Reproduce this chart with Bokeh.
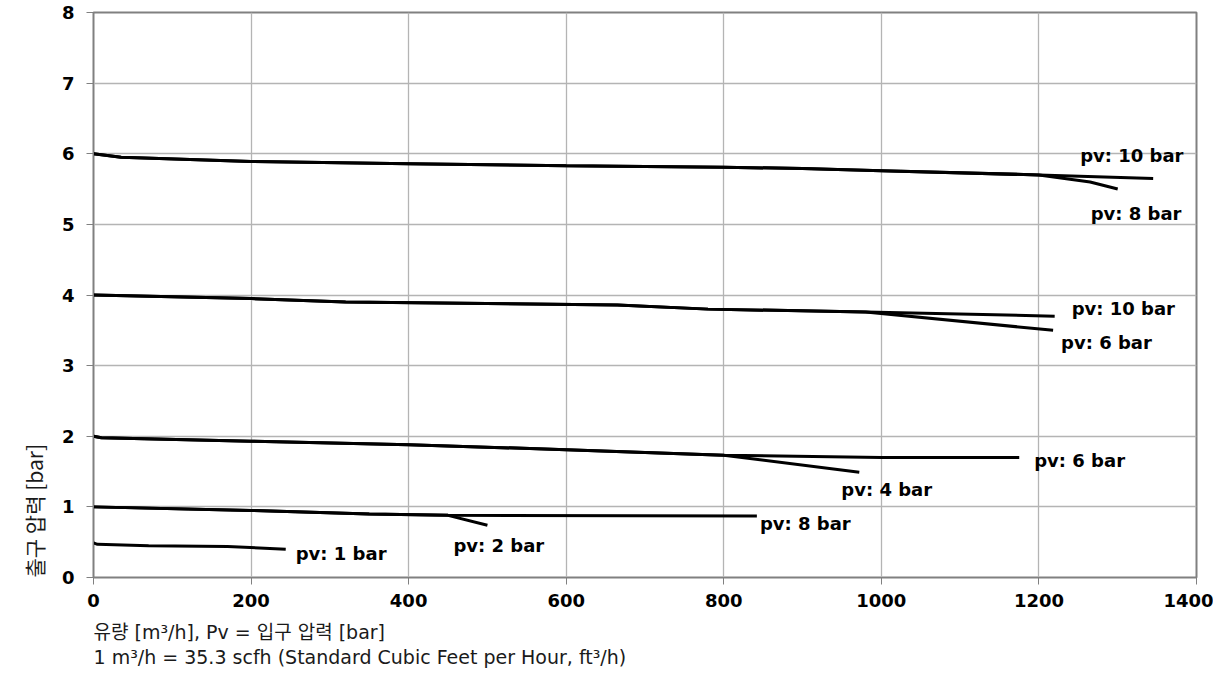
from bokeh.plotting import figure
from bokeh.models import Title, FixedTicker, ColumnDataSource
from bokeh.core.properties import value
from bokeh.embed import file_html
from bokeh.resources import INLINE

# ---- data (flow m3/h, outlet pressure bar) ----
s6_pv10_x = [0, 35, 200, 400, 600, 800, 900, 1000, 1200, 1345]
s6_pv10_y = [6.00, 5.95, 5.89, 5.86, 5.83, 5.81, 5.79, 5.76, 5.70, 5.65]
s6_pv8_x = [0, 35, 200, 400, 600, 800, 900, 1000, 1200, 1265, 1300]
s6_pv8_y = [6.00, 5.95, 5.89, 5.86, 5.83, 5.81, 5.79, 5.76, 5.70, 5.60, 5.50]

s4_pv10_x = [0, 200, 320, 665, 780, 980, 1220]
s4_pv10_y = [4.00, 3.95, 3.90, 3.86, 3.80, 3.76, 3.70]
s4_pv6_x = [0, 200, 320, 665, 780, 980, 1218]
s4_pv6_y = [4.00, 3.95, 3.90, 3.86, 3.80, 3.76, 3.50]

s2_pv6_x = [0, 10, 200, 400, 600, 800, 1000, 1175]
s2_pv6_y = [2.00, 1.98, 1.93, 1.88, 1.81, 1.73, 1.70, 1.70]
s2_pv4_x = [0, 10, 200, 400, 600, 800, 972]
s2_pv4_y = [2.00, 1.98, 1.93, 1.88, 1.81, 1.73, 1.49]

s1_pv8_x = [0, 200, 350, 450, 842]
s1_pv8_y = [1.00, 0.95, 0.90, 0.88, 0.87]
s1_pv2_x = [0, 200, 350, 450, 500]
s1_pv2_y = [1.00, 0.95, 0.90, 0.88, 0.74]

s05_pv1_x = [0, 5, 70, 170, 244]
s05_pv1_y = [0.49, 0.47, 0.45, 0.44, 0.40]

labels = ["pv: 10 bar", "pv: 8 bar", "pv: 10 bar", "pv: 6 bar",
          "pv: 6 bar", "pv: 4 bar", "pv: 8 bar", "pv: 2 bar", "pv: 1 bar"]

x_ticks = [0, 200, 400, 600, 800, 1000, 1200, 1400]
y_ticks = [0, 1, 2, 3, 4, 5, 6, 7, 8]

x_title_1 = "유량 [m³/h], Pv = 입구 압력 [bar]"
x_title_2 = "1 m³/h = 35.3 scfh (Standard Cubic Feet per Hour, ft³/h)"
y_title = "출구 압력 [bar]"

series = [
    (s6_pv10_x, s6_pv10_y, labels[0], (-73, -23)),
    (s6_pv8_x, s6_pv8_y, labels[1], (-27, 24)),
    (s4_pv10_x, s4_pv10_y, labels[2], (17, -8)),
    (s4_pv6_x, s4_pv6_y, labels[3], (8, 12)),
    (s2_pv6_x, s2_pv6_y, labels[4], (15, 3)),
    (s2_pv4_x, s2_pv4_y, labels[5], (-18, 17)),
    (s1_pv8_x, s1_pv8_y, labels[6], (3, 7)),
    (s1_pv2_x, s1_pv2_y, labels[7], (-34, 20)),
    (s05_pv1_x, s05_pv1_y, labels[8], (10, 4)),
]

p = figure(width=1213, height=678, x_range=(0, 1400), y_range=(0, 8),
           output_backend="svg", toolbar_location=None,
           min_border_left=93, min_border_right=17, min_border_top=12,
           min_border_bottom=101)
p.background_fill_color = "white"
p.border_fill_color = "white"
p.outline_line_color = "#808080"
p.outline_line_width = 2

for ax in (p.xaxis, p.yaxis):
    ax.axis_line_color = "#808080"
    ax.axis_line_width = 1
    ax.major_tick_line_color = "#808080"
    ax.major_tick_out = 7
    ax.major_tick_in = 0
    ax.minor_tick_line_color = None
    ax.major_label_text_font = "DejaVu Sans"
    ax.major_label_text_font_style = "bold"
    ax.major_label_text_font_size = "18px"
    ax.major_label_text_color = "black"
p.xaxis.ticker = FixedTicker(ticks=x_ticks)
p.yaxis.ticker = FixedTicker(ticks=y_ticks)
p.xaxis.major_label_standoff = 9
p.yaxis.major_label_standoff = 12

p.xgrid.grid_line_color = "#b4b4b4"
p.ygrid.grid_line_color = "#b4b4b4"
p.xgrid.grid_line_width = 1.3
p.ygrid.grid_line_width = 1.3

for xs, ys, lab, (dx, dy) in series:
    p.line(xs, ys, line_color="black", line_width=3)
    src = ColumnDataSource(dict(x=[xs[-1]], y=[ys[-1]], t=[lab]))
    p.text(x="x", y="y", text="t", source=src, x_offset=dx, y_offset=dy,
           text_align="left", text_baseline="middle",
           text_font=value("DejaVu Sans"), text_font_style="bold",
           text_font_size="18px", text_color="black")

font = "DejaVu Sans, Noto Sans CJK KR"
tx = Title(text=x_title_1 + "\n" + x_title_2, align="left",
           text_font=font, text_font_size="19px", text_font_style="normal",
           text_color="#1a1a1a", text_line_height=1.15, standoff=20)
p.add_layout(tx, "below")

ty = Title(text=y_title, align="left",
           text_font="Noto Sans CJK KR",
           text_font_size="21px", text_font_style="normal",
           text_color="#1a1a1a", standoff=20)
p.add_layout(ty, "left")

open("out.html", "w").write(file_html(p, INLINE))
